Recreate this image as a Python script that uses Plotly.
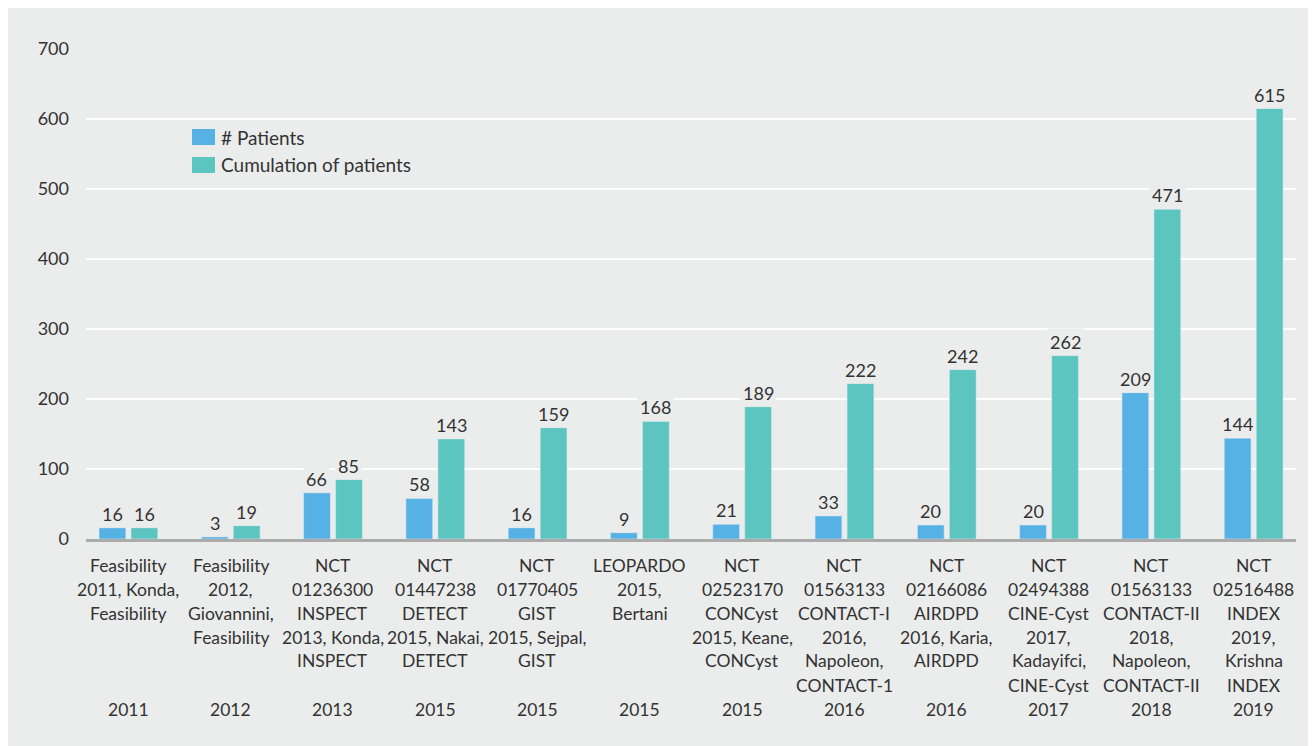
import plotly.graph_objects as go

# ---------------- data ----------------
study_labels = [
    "Feasibility\n2011, Konda,\nFeasibility",
    "Feasibility\n2012,\nGiovannini,\nFeasibility",
    "NCT\n01236300\nINSPECT\n2013, Konda,\nINSPECT",
    "NCT\n01447238\nDETECT\n2015, Nakai,\nDETECT",
    "NCT\n01770405\nGIST\n2015, Sejpal,\nGIST",
    "LEOPARDO\n2015,\nBertani",
    "NCT\n02523170\nCONCyst\n2015, Keane,\nCONCyst",
    "NCT\n01563133\nCONTACT-I\n2016,\nNapoleon,\nCONTACT-1",
    "NCT\n02166086\nAIRDPD\n2016, Karia,\nAIRDPD",
    "NCT\n02494388\nCINE-Cyst\n2017,\nKadayifci,\nCINE-Cyst",
    "NCT\n01563133\nCONTACT-II\n2018,\nNapoleon,\nCONTACT-II",
    "NCT\n02516488\nINDEX\n2019,\nKrishna\nINDEX",
]
years = ["2011", "2012", "2013", "2015", "2015", "2015", "2015", "2016", "2016", "2017", "2018", "2019"]
patients = [16, 3, 66, 58, 16, 9, 21, 33, 20, 20, 209, 144]
cumulative = [16, 19, 85, 143, 159, 168, 189, 222, 242, 262, 471, 615]
series_names = ["# Patients", "Cumulation of patients"]
y_ticks = [0, 100, 200, 300, 400, 500, 600, 700]

# ---------------- styling ----------------
BG = "#ebecec"
BLUE = "#56b2e4"
GREEN = "#5cc5bf"
TXT = "#333333"
FONT = "Lato"
FS = 18
FS_CAT = 17.5
FS_LEG = 19

# page has an 8px body margin; figure coordinates = screen - 8
OFF = 8
W, H = 1316 - OFF, 746 - OFF
ML, MR, MT, MB = 86 - OFF, 20, 49 - OFF, 207
PW = W - ML - MR
PH = H - MT - MB


def px_x(p):
    return (p - OFF - ML) / PW


def px_y(p):
    return (H - MB - (p - OFF)) / PH


x = list(range(len(patients)))

fig = go.Figure()
fig.add_trace(go.Bar(x=x, y=patients, name=series_names[0], marker_color=BLUE,
                     width=0.262, offset=-0.2864, showlegend=False))
fig.add_trace(go.Bar(x=x, y=cumulative, name=series_names[1], marker_color=GREEN,
                     width=0.262, offset=0.0264, showlegend=False))

annotations = []
# value labels
for i, (a, b) in enumerate(zip(patients, cumulative)):
    for val, xc in ((a, i - 0.2864 + 0.131), (b, i + 0.0264 + 0.131)):
        annotations.append(dict(x=xc, y=val, xref="x", yref="y", text=str(val),
                                showarrow=False, yanchor="bottom", xanchor="center",
                                font=dict(family=FONT, size=FS, color=TXT),
                                bgcolor=BG, borderpad=2, yshift=0))

# category labels (one annotation per line, 24px line spacing)
for i, (lab, yr) in enumerate(zip(study_labels, years)):
    lines = lab.split("\n")
    for k, line in enumerate(lines):
        annotations.append(dict(x=i, y=px_y(565 + 24 * k), xref="x", yref="paper",
                                text=line, showarrow=False, yanchor="middle",
                                xanchor="center",
                                font=dict(family=FONT, size=FS_CAT, color=TXT)))
    annotations.append(dict(x=i, y=px_y(709), xref="x", yref="paper",
                            text=yr, showarrow=False, yanchor="middle",
                            xanchor="center",
                            font=dict(family=FONT, size=FS_CAT, color=TXT)))

# manual legend
shapes = []
for k, (nm, col) in enumerate(zip(series_names, [BLUE, GREEN])):
    cy = 137 + 28 * k
    shapes.append(dict(type="rect", xref="paper", yref="paper",
                       x0=px_x(192), x1=px_x(215), y0=px_y(cy + 8), y1=px_y(cy - 8),
                       fillcolor=col, line=dict(width=0), layer="above"))
    annotations.append(dict(x=px_x(219), y=px_y(cy), xref="paper", yref="paper",
                            text=nm, showarrow=False, xanchor="left", yanchor="middle",
                            font=dict(family=FONT, size=FS_LEG, color=TXT)))

fig.update_layout(
    width=W, height=H,
    margin=dict(l=ML, r=MR, t=MT, b=MB),
    paper_bgcolor=BG, plot_bgcolor=BG,
    barmode="overlay",
    font=dict(family=FONT, size=FS, color=TXT),
    annotations=annotations,
    shapes=shapes,
    xaxis=dict(range=[-0.4135, 11.415], showticklabels=False, showgrid=False,
               zeroline=False, showline=True, linecolor="#ababab", linewidth=2.5,
               fixedrange=True),
    yaxis=dict(range=[0, 700], tickvals=y_ticks, ticktext=[str(v) for v in y_ticks],
               showgrid=True, gridcolor="white", gridwidth=2, zeroline=False,
               ticks="", ticklabelstandoff=16,
               tickfont=dict(family=FONT, size=FS, color=TXT), fixedrange=True),
)

fig.write_html("out.html")
